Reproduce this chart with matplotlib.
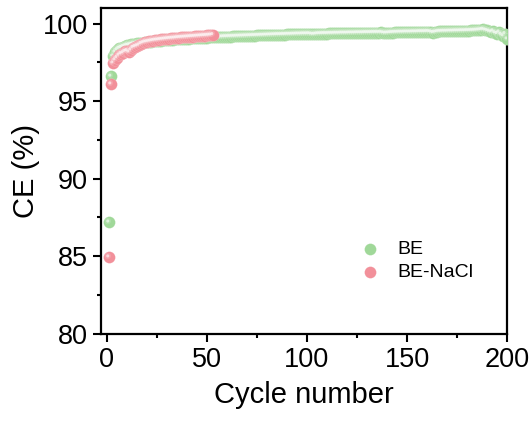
import numpy as np
import matplotlib
matplotlib.use("Agg")
import matplotlib.pyplot as plt
from matplotlib import transforms
from matplotlib.ticker import MultipleLocator

plt.rcParams["font.family"] = ["Liberation Sans", "DejaVu Sans"]

# === DATA ===
be_ce = [
    87.2, 96.6, 97.9, 98.15, 98.3, 98.4, 98.45, 98.5, 98.55, 98.6,
    98.62, 98.65, 98.68, 98.7, 98.72, 98.74, 98.75, 98.77, 98.78, 98.8,
    98.82, 98.83, 98.85, 98.86, 98.87, 98.88, 98.9, 98.91, 98.92, 98.93,
    98.94, 98.95, 98.96, 98.97, 98.98, 98.99, 99.0, 99.0, 99.01, 99.02,
    99.03, 99.04, 99.04, 99.05, 99.06, 99.06, 99.07, 99.08, 99.08, 99.09,
    99.1, 99.1, 99.11, 99.12, 99.12, 99.13, 99.13, 99.14, 99.15, 99.15,
    99.16, 99.16, 99.17, 99.17, 99.18, 99.18, 99.19, 99.19, 99.2, 99.2,
    99.21, 99.21, 99.22, 99.22, 99.23, 99.23, 99.24, 99.24, 99.25, 99.25,
    99.26, 99.26, 99.27, 99.27, 99.28, 99.28, 99.28, 99.29, 99.29, 99.3,
    99.3, 99.3, 99.31, 99.31, 99.32, 99.32, 99.32, 99.33, 99.33, 99.33,
    99.34, 99.32, 99.3, 99.31, 99.33, 99.34, 99.34, 99.35, 99.35, 99.35,
    99.36, 99.36, 99.36, 99.37, 99.37, 99.37, 99.38, 99.38, 99.38, 99.38,
    99.39, 99.39, 99.39, 99.39, 99.4, 99.4, 99.4, 99.4, 99.41, 99.41,
    99.41, 99.41, 99.42, 99.42, 99.42, 99.42, 99.43, 99.4, 99.38, 99.39,
    99.4, 99.41, 99.42, 99.43, 99.43, 99.44, 99.44, 99.44, 99.45, 99.45,
    99.45, 99.45, 99.46, 99.46, 99.46, 99.47, 99.47, 99.47, 99.47, 99.48,
    99.48, 99.45, 99.42, 99.44, 99.47, 99.49, 99.49, 99.5, 99.5, 99.5,
    99.51, 99.51, 99.51, 99.52, 99.52, 99.52, 99.53, 99.53, 99.53, 99.54,
    99.54, 99.55, 99.55, 99.56, 99.57, 99.58, 99.6, 99.62, 99.58, 99.55,
    99.5, 99.45, 99.52, 99.4, 99.35, 99.45, 99.3, 99.2, 99.35, 99.0,
]
nacl_ce = [
    84.95, 96.1, 97.45, 97.65, 97.8, 97.95, 98.05, 98.1, 98.2, 98.25,
    98.15, 98.3, 98.45, 98.5, 98.55, 98.6, 98.7, 98.75, 98.8, 98.82,
    98.85, 98.87, 98.9, 98.92, 98.93, 98.95, 98.97, 98.98, 99.0, 99.01,
    99.03, 99.04, 99.05, 99.06, 99.08, 99.09, 99.1, 99.11, 99.12, 99.13,
    99.14, 99.15, 99.16, 99.17, 99.18, 99.19, 99.2, 99.21, 99.22, 99.23,
    99.24, 99.25, 99.28,
]
be_cycle = np.arange(1, len(be_ce) + 1)
nacl_cycle = np.arange(1, len(nacl_ce) + 1)

GREEN = "#a0d899"
PINK = "#f2909a"


def sphere(ax, x, y, color, label=None, size=72):
    # base disc + soft shine towards upper-left, like Origin's 3D balls
    ax.scatter(x, y, s=size, color=color, edgecolors=(1, 1, 1, 0.25), linewidths=0.4,
               label=label, zorder=3)
    shine = transforms.offset_copy(ax.transData, fig=ax.figure, x=-0.8, y=0.8, units="points")
    ax.scatter(x, y, s=size * 0.3, color="white", alpha=0.15, edgecolors="none",
               transform=shine, zorder=3)
    ax.scatter(x, y, s=size * 0.07, color="white", alpha=0.6, edgecolors="none",
               transform=shine, zorder=3)


fig = plt.figure(figsize=(5.31, 4.21), dpi=100)
ax = fig.add_axes([0.19, 0.207, 0.765, 0.774])

sphere(ax, be_cycle, be_ce, GREEN, "BE")
sphere(ax, nacl_cycle, nacl_ce, PINK, "BE-NaCl")

ax.set_xlim(-3, 200)
ax.set_ylim(80, 101)
ax.xaxis.set_major_locator(MultipleLocator(50))
ax.xaxis.set_minor_locator(MultipleLocator(25))
ax.yaxis.set_major_locator(MultipleLocator(5))
ax.yaxis.set_minor_locator(MultipleLocator(2.5))
ax.tick_params(which="major", direction="out", length=6, width=1.5, labelsize=19.5)
ax.tick_params(which="minor", direction="out", length=3, width=1.5)
for sp in ax.spines.values():
    sp.set_linewidth(1.6)

ax.set_xlabel("Cycle number", fontsize=21, labelpad=6)
ax.set_ylabel("CE (%)", fontsize=21, labelpad=2)

leg = ax.legend(loc="upper left", bbox_to_anchor=(0.62, 0.31), frameon=False,
                fontsize=14, handlelength=1.0, handletextpad=0.9, labelspacing=0.25,
                scatterpoints=1, borderaxespad=0)

fig.savefig("out.png", dpi=100)
